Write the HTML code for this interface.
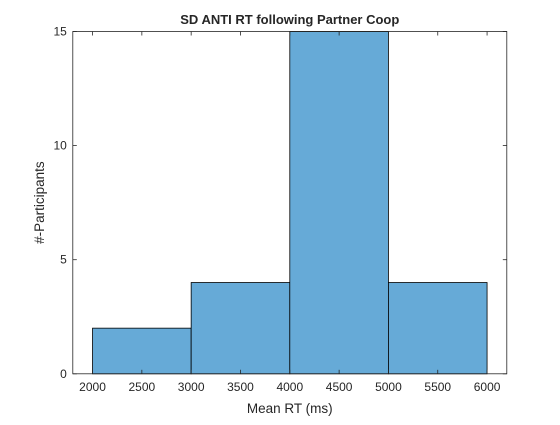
<!DOCTYPE html>
<html><head><meta charset="utf-8"><style>
body{margin:0;background:#fff;width:560px;height:420px;overflow:hidden}
text{font-family:"Liberation Sans",Arial,sans-serif;fill:#262626}
</style></head><body>
<svg id="chart" width="560" height="420" xmlns="http://www.w3.org/2000/svg"></svg>
<script>
const binEdges=[2000,3000,4000,5000,6000];
const counts=[2,4,15,4];
const xTicks=[2000,2500,3000,3500,4000,4500,5000,5500,6000];
const yTicks=[0,5,10,15];
const L=72.8,R=506.8,T=31.5,B=373.8,xmin=1800,xmax=6200,ymin=0,ymax=15;
const xs=v=>L+(v-xmin)/(xmax-xmin)*(R-L);
const ys=v=>B-(v-ymin)/(ymax-ymin)*(B-T);
const svg=document.getElementById('chart');
const NS='http://www.w3.org/2000/svg';
function mk(tag,attrs,parent){const e=document.createElementNS(NS,tag);for(const k in attrs)e.setAttribute(k,attrs[k]);(parent||svg).appendChild(e);return e;}
const bg=mk('rect',{x:L,y:T,width:R-L,height:B-T,fill:'#fff'});


counts.forEach((c,i)=>{
  const r=mk('rect',{x:xs(binEdges[i]),y:ys(c),width:xs(binEdges[i+1])-xs(binEdges[i]),height:ys(0)-ys(c),fill:'#66AAD7',stroke:'#000','stroke-width':0.8});
  
  
});
const box=mk('rect',{x:L,y:T,width:R-L,height:B-T,fill:'none',stroke:'#262626','stroke-width':0.8});


xTicks.forEach(v=>{
  const x=xs(v);
  mk('line',{x1:x,x2:x,y1:B,y2:B-4,stroke:'#262626','stroke-width':0.8});
  mk('line',{x1:x,x2:x,y1:T,y2:T+4,stroke:'#262626','stroke-width':0.8});
  const t=mk('text',{x:x,y:B+17,'text-anchor':'middle','font-size':12});
  t.textContent=v;
  
  
});
yTicks.forEach(v=>{
  const y=ys(v);
  mk('line',{x1:L,x2:L+4,y1:y,y2:y,stroke:'#262626','stroke-width':0.8});
  mk('line',{x1:R,x2:R-4,y1:y,y2:y,stroke:'#262626','stroke-width':0.8});
  const t=mk('text',{x:L-6,y:y+4,'text-anchor':'end','font-size':12});
  t.textContent=v;
  
  
});
const xt=mk('text',{x:(L+R)/2,y:413,'text-anchor':'middle','font-size':13.5});
xt.textContent='Mean RT (ms)';


const yt=mk('text',{x:0,y:0,'text-anchor':'middle','font-size':13.5,transform:`translate(44,${(T+B)/2}) rotate(-90)`});
yt.textContent='#-Participants';


const tt=mk('text',{x:(L+R)/2,y:24,'text-anchor':'middle','font-size':13,'font-weight':'bold',fill:'#000'});
tt.textContent='SD ANTI RT following Partner Coop';


</script>
</body></html>
